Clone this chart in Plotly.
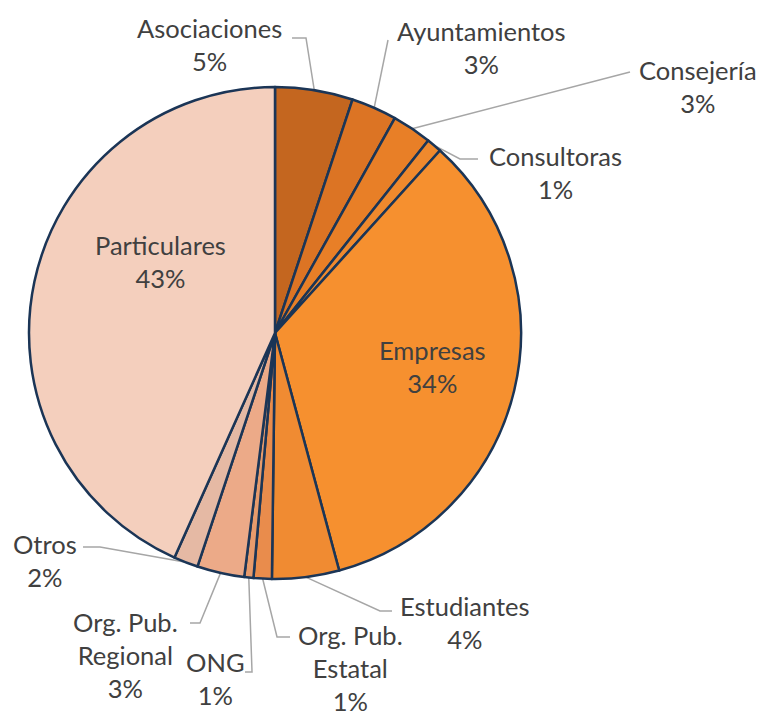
import math
import plotly.graph_objects as go

categories = ["Asociaciones", "Ayuntamientos", "Consejería", "Consultoras", "Empresas",
              "Estudiantes", "Org. Pub.<br>Estatal", "ONG", "Org. Pub.<br>Regional", "Otros",
              "Particulares"]
values = [5.1, 3.0, 2.6, 1.0, 34.1, 4.4, 1.2, 0.6, 3.1, 1.6, 43.3]
pct_labels = ["5%", "3%", "3%", "1%", "34%", "4%", "1%", "1%", "3%", "2%", "43%"]
colors = ["#C4661F", "#DC7424", "#E87F27", "#EF892D", "#F6902F", "#F08B32",
          "#E98C4C", "#E79B6C", "#ECAA88", "#E5B9A4", "#F4CFBD"]

OFF = 8  # page body margin
W, H = 765 - OFF, 716 - OFF
CX, CY, R = 275 - OFF, 333 - OFF, 246
ML, MT = CX - R, CY - R
MR, MB = W - ML - 2 * R, H - MT - 2 * R


def px(x, y):
    # screen pixel position -> paper coordinates of the square pie domain
    x, y = x - OFF, y - OFF
    return (x - ML) / (2 * R), 1 - (y - MT) / (2 * R)


# label centre (px) and leader elbow (px); None = no leader (inside label)
label_pos = {
    "Asociaciones": ((209, 44), [(292, 38), (306, 38)]),
    "Ayuntamientos": ((481, 48), [(388, 40)]),
    "Consejería": ((698, 86), [(630, 72)]),
    "Consultoras": ((555, 172), [(478, 159), (460, 159)]),
    "Empresas": ((432, 366), None),
    "Estudiantes": ((465, 622), [(392, 611), (380, 611)]),
    "Org. Pub.<br>Estatal": ((350, 668), [(290, 637), (277, 637)]),
    "ONG": ((215, 678), [(245, 672), (252, 672)]),
    "Org. Pub.<br>Regional": ((125, 655), [(190, 623), (200, 623)]),
    "Otros": ((45, 560), [(83, 547), (100, 547)]),
    "Particulares": ((160, 261), None),
}

fig = go.Figure(go.Pie(
    labels=categories, values=values, sort=False, direction="clockwise", rotation=0,
    marker=dict(colors=colors, line=dict(color="#1B3556", width=2.5)),
    textinfo="none", hoverinfo="label+percent", showlegend=False,
    domain=dict(x=[0, 1], y=[0, 1]),
))

total = sum(values)
cum = 0
shapes, annotations = [], []
for cat, v, p in zip(categories, values, pct_labels):
    mid = (cum + v / 2) / total * 2 * math.pi
    cum += v
    (lx, ly), elbow = label_pos[cat]
    ax, ay = px(lx, ly)
    annotations.append(dict(
        x=ax, y=ay, xref="paper", yref="paper", showarrow=False,
        xanchor="center", yanchor="middle",
        text=f"{cat}<br>{p}", align="center",
        font=dict(family="Lato, Open Sans, sans-serif", size=25.5, color="#404040"),
    ))
    if elbow:
        ex, ey = 0.5 + 0.5 * math.sin(mid), 0.5 + 0.5 * math.cos(mid)
        pts = [px(*e) for e in elbow] + [(ex, ey)]
        path = "M " + " L ".join(f"{a:.4f},{b:.4f}" for a, b in pts)
        shapes.append(dict(type="path", path=path, xref="paper", yref="paper",
                           line=dict(color="#A6A6A6", width=1.5), layer="below"))

fig.update_layout(
    width=W, height=H,
    margin=dict(l=ML, r=MR, t=MT, b=MB),
    paper_bgcolor="white", plot_bgcolor="white",
    shapes=shapes, annotations=annotations,
)

fig.write_html("out.html")
